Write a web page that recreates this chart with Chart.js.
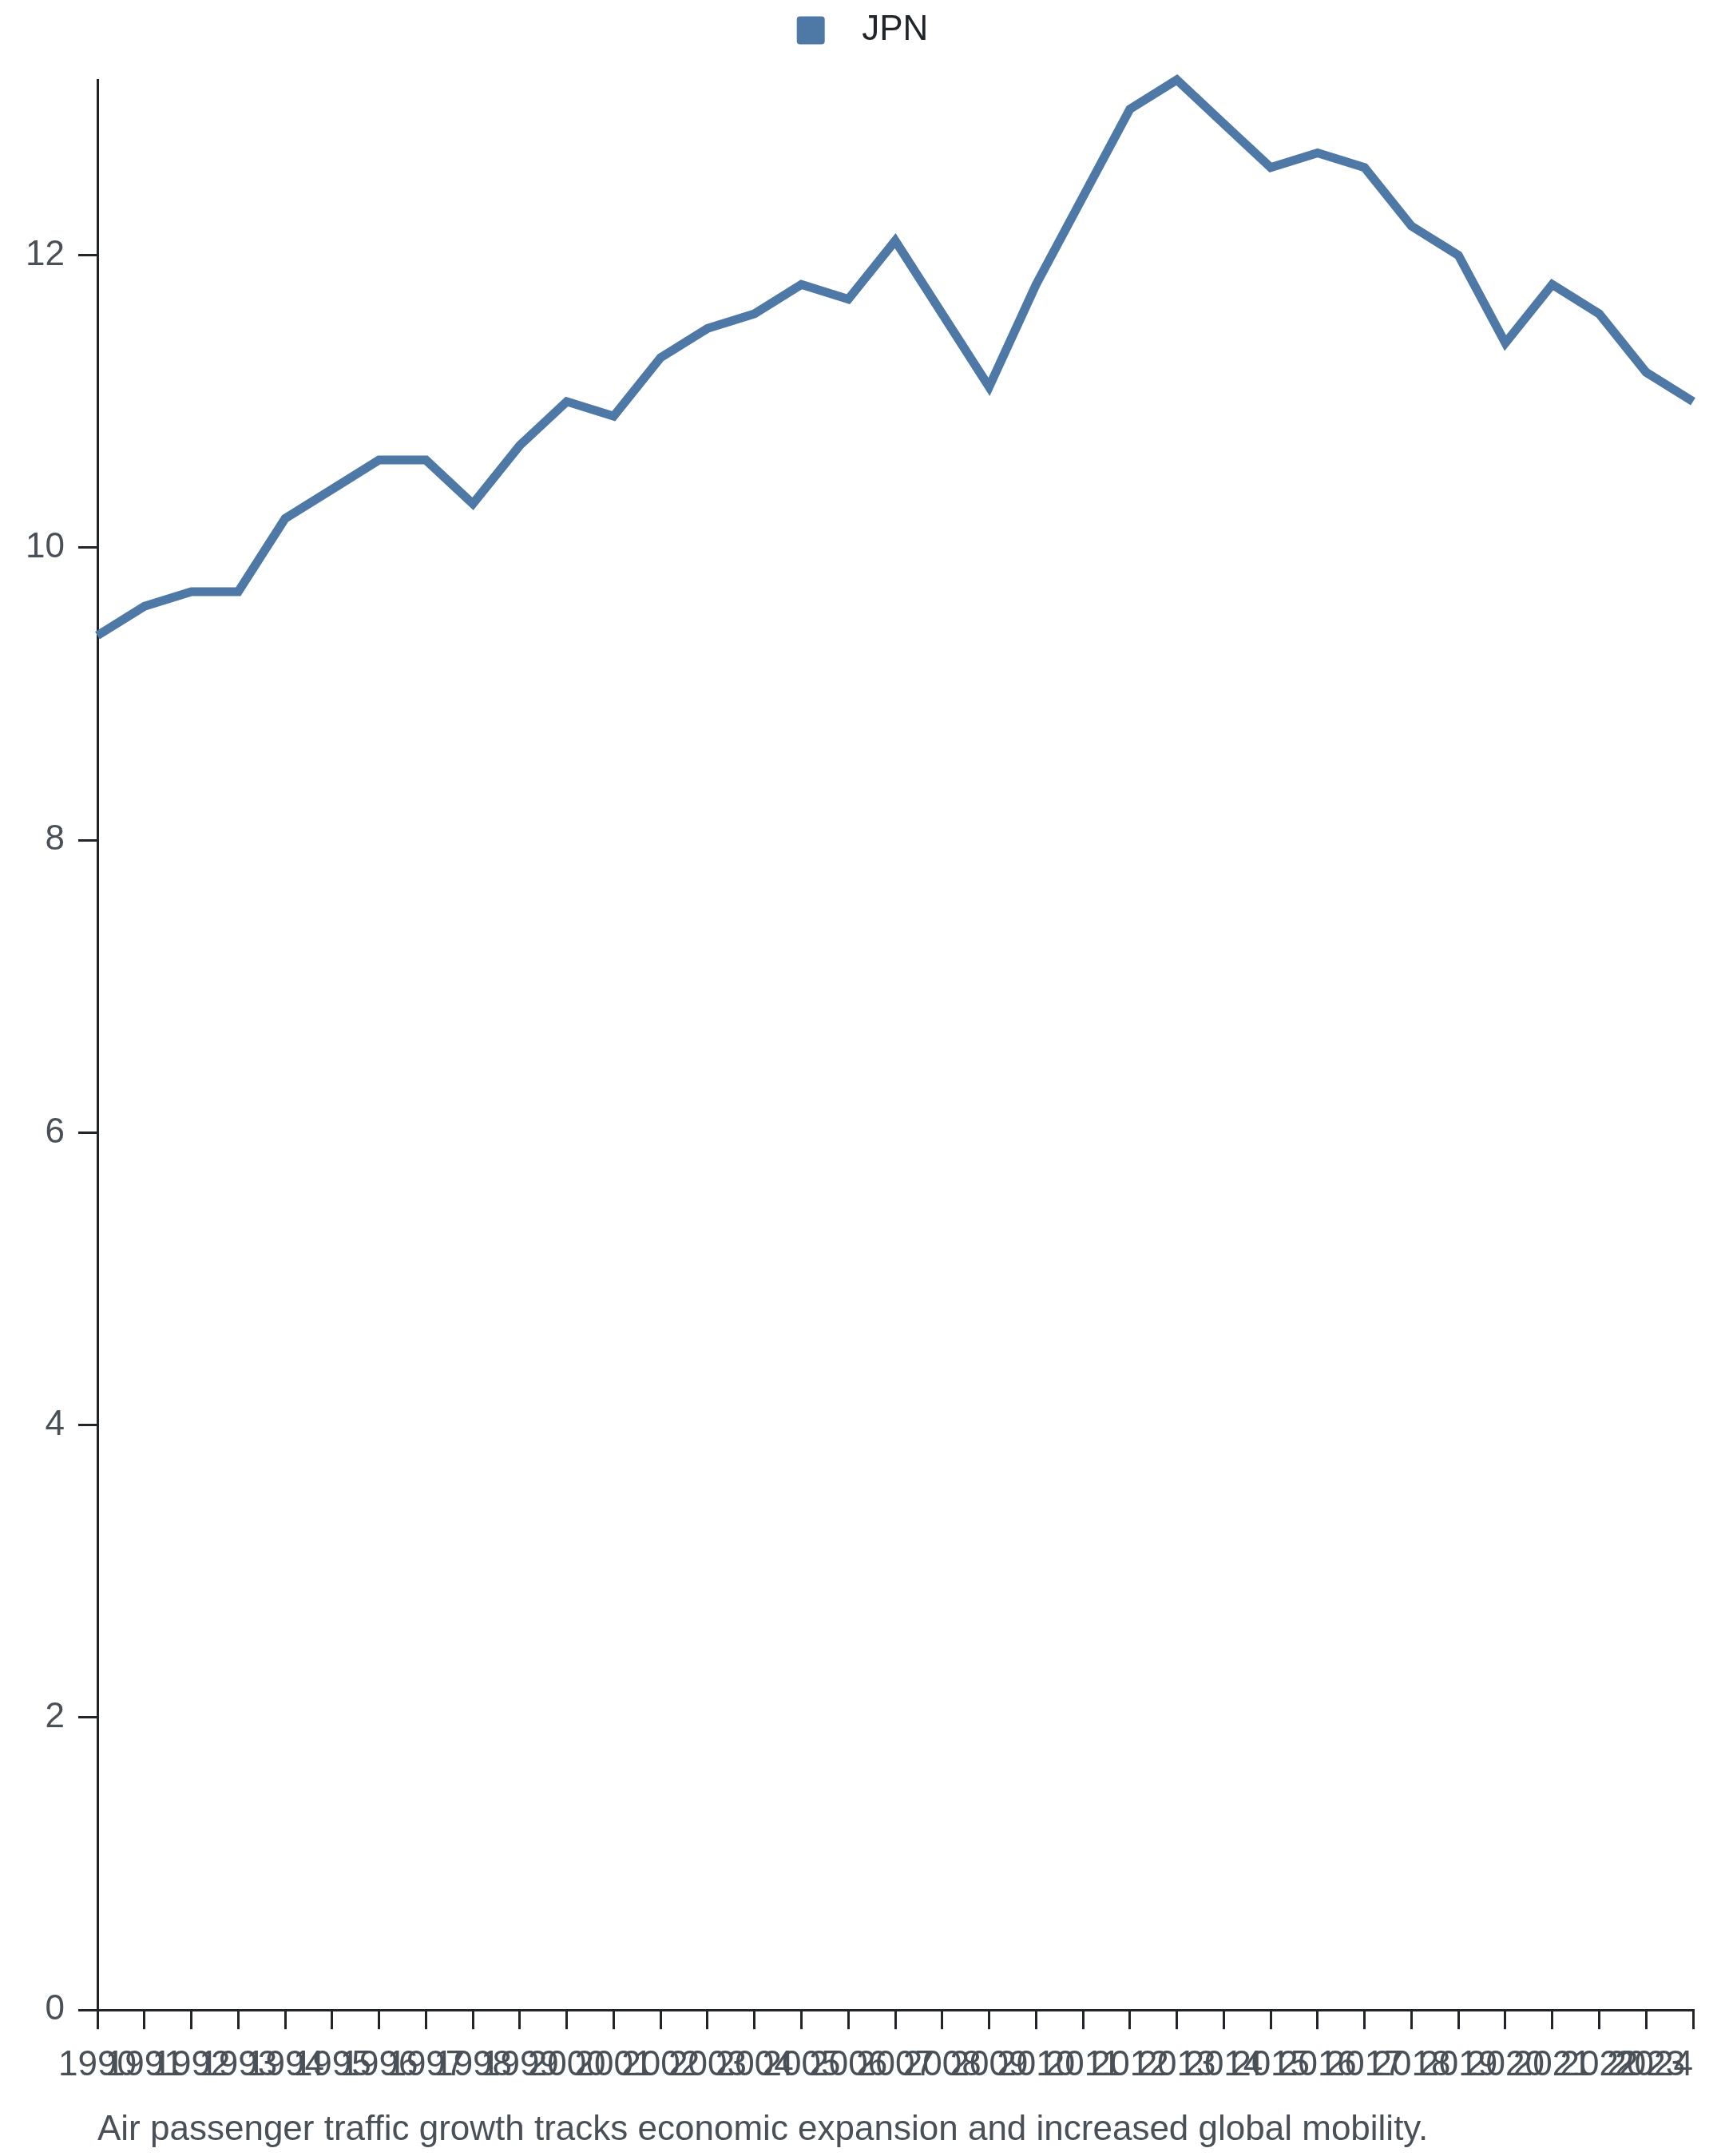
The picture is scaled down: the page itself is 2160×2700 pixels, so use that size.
<!DOCTYPE html>
<html>
<head>
<meta charset="utf-8">
<script src="https://cdn.jsdelivr.net/npm/chart.js@4.4.1/dist/chart.umd.min.js"></script>
<style>
  html, body { margin: 0; padding: 0; background: #fff; }
  canvas { display: block; }
</style>
</head>
<body>
<canvas id="chart1" width="2160" height="2700"></canvas>
<script>
var years = ['1990', '1991', '1992', '1993', '1994', '1995', '1996', '1997', '1998', '1999',
	'2000', '2001', '2002', '2003', '2004', '2005', '2006', '2007', '2008', '2009',
	'2010', '2011', '2012', '2013', '2014', '2015', '2016', '2017', '2018', '2019',
	'2020', '2021', '2022', '2023', '2024'];
var jpn = [9.4, 9.6, 9.7, 9.7, 10.2, 10.4, 10.6, 10.6, 10.3, 10.7,
	11.0, 10.9, 11.3, 11.5, 11.6, 11.8, 11.7, 12.1, 11.6, 11.1,
	11.8, 12.4, 13.0, 13.2, 12.9, 12.6, 12.7, 12.6, 12.2, 12.0,
	11.4, 11.8, 11.6, 11.2, 11.0];
var seriesName = 'JPN';
var caption = 'Air passenger traffic growth tracks economic expansion and increased global mobility.';

var lineColor = '#4e79a7';
var axisColor = '#212529';
var tickColor = '#495057';
var fontFamily = "'Liberation Sans', Arial, Helvetica, sans-serif";

// push the plot area down below the legend
var legendGap = {
	id: 'legendGap',
	beforeInit: function(chart) {
		var fit = chart.legend.fit;
		chart.legend.fit = function() {
			fit.bind(chart.legend)();
			this.height += 30;
		};
	}
};

// last year label sits inside the axis end
var lastLabel = {
	id: 'lastLabel',
	beforeDraw: function(chart) {
		var items = chart.scales.x.getLabelItems();
		if (items.length) {
			items[items.length - 1].options.textAlign = 'right';
		}
	}
};

var captionText = {
	id: 'captionText',
	afterDraw: function(chart) {
		var ctx = chart.ctx;
		ctx.save();
		ctx.font = '44px ' + fontFamily;
		ctx.fillStyle = tickColor;
		ctx.textAlign = 'left';
		ctx.textBaseline = 'alphabetic';
		ctx.fillText(caption, chart.chartArea.left, 2680);
		ctx.restore();
	}
};

var ctx = document.getElementById('chart1').getContext('2d');
new Chart(ctx, {
	type: 'line',
	data: {
		labels: years,
		datasets: [{
			label: seriesName,
			data: jpn,
			borderColor: lineColor,
			backgroundColor: lineColor,
			borderWidth: 11,
			borderJoinStyle: 'miter',
			pointRadius: 0,
			tension: 0,
			fill: false,
			clip: false
		}]
	},
	plugins: [legendGap, lastLabel, captionText],
	options: {
		responsive: false,
		animation: false,
		layout: {
			padding: { top: 0, right: 0, bottom: 68, left: 0 }
		},
		plugins: {
			legend: {
				position: 'top',
				labels: {
					boxWidth: 35,
					boxHeight: 35,
					useBorderRadius: true,
					borderRadius: 4,
					padding: 16,
					color: axisColor,
					font: { family: fontFamily, size: 44 },
					generateLabels: function(chart) {
						var items = Chart.defaults.plugins.legend.labels.generateLabels(chart);
						items.forEach(function(it) {
							it.text = '  ' + it.text;
							it.lineWidth = 0;
							it.fillStyle = lineColor;
							it.strokeStyle = lineColor;
						});
						return items;
					}
				}
			},
			tooltip: { enabled: false }
		},
		scales: {
			x: {
				type: 'category',
				offset: false,
				border: { display: true, color: axisColor, width: 3 },
				grid: {
					drawOnChartArea: false,
					drawTicks: true,
					tickLength: 24,
					color: axisColor,
					lineWidth: 3
				},
				ticks: {
					autoSkip: false,
					maxRotation: 0,
					minRotation: 0,
					padding: 19,
					color: tickColor,
					font: { family: fontFamily, size: 44 }
				},
				afterFit: function(scale) {
					scale.paddingLeft = 0;
					scale.paddingRight = 40;
				}
			},
			y: {
				min: 0,
				max: 13.2,
				border: { display: true, color: axisColor, width: 3 },
				grid: {
					drawOnChartArea: false,
					drawTicks: true,
					tickLength: 24,
					color: axisColor,
					lineWidth: 3
				},
				ticks: {
					stepSize: 2,
					includeBounds: false,
					padding: 17,
					color: tickColor,
					font: { family: fontFamily, size: 44 }
				},
				afterFit: function(scale) {
					scale.width = 122;
					scale.paddingTop = 0;
					scale.paddingBottom = 0;
				}
			}
		}
	}
});
</script>
</body>
</html>
